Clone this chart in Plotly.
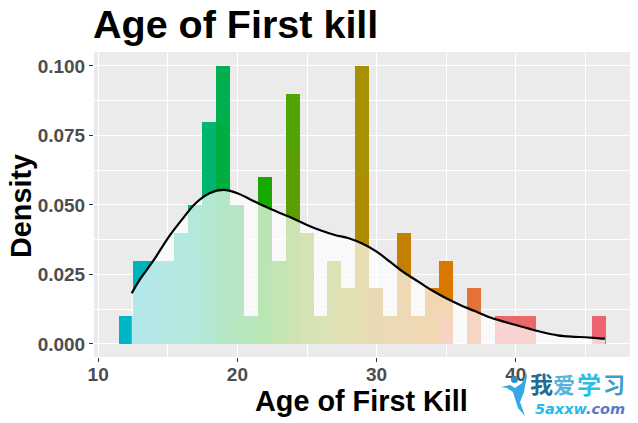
import plotly.graph_objects as go

ages = list(range(12, 47))
lower = [0.01, 0.03, 0.03, 0.03, 0.04, 0.03, 0.08, 0.08, 0.01, 0.01, 0.03, 0.02, 0.07, 0.04, 0.01, 0.03, 0.02, 0.06, 0.02, 0.01, 0.04, 0.01, 0.02, 0.01, 0, 0.02, 0, 0.01, 0.01, 0.01, 0, 0, 0, 0, 0.01]
upper = [0, 0, 0, 0, 0, 0.02, 0, 0.02, 0.04, 0, 0.03, 0.01, 0.02, 0, 0, 0, 0, 0.04, 0, 0, 0, 0, 0, 0.02, 0, 0, 0, 0, 0, 0, 0, 0, 0, 0, 0]
lower_colors = ["#00B4C8", "#00B2BA", "#00B3AF", "#00B2A2", "#00B496", "#00B48E", "#00B471", "#00AD40", "#0AB02E", "#10AF20",
                "#1AAB00", "#38A900", "#5CA000", "#72A000", "#80A000", "#8C9A00", "#9A9600", "#AE8C00", "#B28800", "#BC8400",
                "#C48000", "#CA7D00", "#D27A00", "#E47030", "#FFFFFF", "#E27238", "#FFFFFF", "#E96868", "#E96868", "#E96868",
                "#FFFFFF", "#FFFFFF", "#FFFFFF", "#FFFFFF", "#EC6470"]
upper_colors = ["#00B4C8", "#00B2BA", "#00B3AF", "#00B2A2", "#00B496", "#00B488", "#00B471", "#00B050", "#0AB032", "#10AF20",
                "#18A900", "#35A800", "#50A500", "#72A000", "#80A000", "#8C9A00", "#9A9600", "#A89000", "#B28800", "#BC8400",
                "#C48000", "#CA7D00", "#D27A00", "#D87800", "#FFFFFF", "#E27238", "#FFFFFF", "#E96868", "#E96868", "#E96868",
                "#FFFFFF", "#FFFFFF", "#FFFFFF", "#FFFFFF", "#EC6470"]

density_x = [12.41, 13, 14, 15, 16, 17, 18, 19, 20, 21, 22, 23, 24, 25, 26, 27, 28, 29, 30, 31, 32, 33, 34, 35, 36, 37, 38, 39, 40, 41, 42, 43, 44, 45, 46, 46.4]
density_y = [0.0182, 0.0232, 0.0302, 0.038, 0.0446, 0.0506, 0.0542, 0.0554, 0.0542, 0.0518, 0.0494, 0.0472, 0.0451, 0.0428, 0.0408, 0.0392, 0.038, 0.036, 0.0332, 0.0294, 0.0256, 0.0224, 0.0192, 0.0164, 0.014, 0.0119, 0.0098, 0.0082, 0.0068, 0.0054, 0.0041, 0.0031, 0.0026, 0.0024, 0.002, 0.0019]

x_ticks = [10, 20, 30, 40]
y_ticks = [0.0, 0.025, 0.05, 0.075, 0.1]
y_tick_labels = ["0.000", "0.025", "0.050", "0.075", "0.100"]

W, H = 638, 423
L, R, T, B = 94, 8, 52, 66
FONT = "Liberation Sans"

fig = go.Figure()
fig.add_bar(x=ages, y=lower, width=1, offset=-0.53, marker=dict(color=lower_colors, line_width=0), hoverinfo="skip")
fig.add_bar(x=ages, y=upper, width=1, offset=-0.53, marker=dict(color=upper_colors, line_width=0), hoverinfo="skip")
fig.add_scatter(x=density_x, y=density_y, mode="lines", fill="tozeroy",
                fillcolor="rgba(255,255,255,0.7)",
                line=dict(color="black", width=2.2, shape="spline", smoothing=1), hoverinfo="skip")


def px(x):
    return (x - L) / (W - L - R)


def py(y):
    return 1 - (y - T) / (H - T - B)


def path(points):
    return "M " + " L ".join(f"{px(a):.4f},{py(b):.4f}" for a, b in points) + " Z"


figure_pts = [(501, 387), (510, 385), (515, 388), (522, 383), (526, 373), (527, 376), (524, 392),
              (520, 402), (525, 416), (518, 408), (513, 392), (507, 388)]
fig.add_shape(type="path", xref="paper", yref="paper", path=path(figure_pts),
              fillcolor="#35A9E6", line_width=0, layer="above")
fig.add_shape(type="circle", xref="paper", yref="paper", x0=px(511), x1=px(518), y0=py(383), y1=py(376),
              fillcolor="#2C8FD0", line_width=0, layer="above")

logo_font = "Noto Sans CJK SC"
for text, x, color, size in [("我", 541, "#1F6C96", 23), ("爱", 564, "#57B2DC", 22), ("学", 589, "#26C0E8", 24), ("习", 614, "#3F9AD0", 22)]:
    fig.add_annotation(text=f"<b>{text}</b>", xref="paper", yref="paper", x=px(x), y=py(383), showarrow=False,
                       xanchor="center", yanchor="middle", font=dict(family=logo_font, size=size, color=color))
fig.add_annotation(text="<b><i>5axxw</i></b>", xref="paper", yref="paper", x=px(533), y=py(409), showarrow=False,
                   xanchor="left", yanchor="middle", font=dict(family="DejaVu Sans", size=14.5, color="#27B8EA"))
fig.add_annotation(text="<b><i>.com</i></b>", xref="paper", yref="paper", x=px(584), y=py(409), showarrow=False,
                   xanchor="left", yanchor="middle", font=dict(family="DejaVu Sans", size=14.5, color="#5A78C8"))

fig.add_annotation(text="<b>Age of First Kill</b>", xref="paper", yref="paper", x=px(361), y=py(401), showarrow=False,
                   xanchor="center", yanchor="middle", font=dict(size=28.8, color="black", family=FONT))
fig.add_annotation(text="<b>Density</b>", xref="paper", yref="paper", x=px(21), y=py(206), showarrow=False, textangle=-90,
                   xanchor="center", yanchor="middle", font=dict(size=28.8, color="black", family=FONT))

fig.update_layout(
    width=W, height=H, margin=dict(l=L, r=R, t=T, b=B, autoexpand=False),
    paper_bgcolor="white", plot_bgcolor="#EBEBEB", showlegend=False,
    barmode="stack", bargap=0, font=dict(family=FONT),
    title=dict(text="<b>Age of First kill</b>", x=93 / W, xanchor="left", y=1 - 37.5 / H, yanchor="bottom",
               yref="container", pad=dict(b=0), font=dict(size=39.5, color="black", family=FONT)),
    xaxis=dict(range=[9.7, 48.2], tickvals=x_ticks, ticks="outside", ticklen=4, tickwidth=1, tickcolor="#333333",
               ticklabelstandoff=-4,
               tickfont=dict(size=19, color="#4D4D4D", family="Liberation Sans", weight="bold"),
               showgrid=True, gridcolor="white", gridwidth=1.4, zeroline=False,
               minor=dict(dtick=5, tick0=0, showgrid=True, gridcolor="white", gridwidth=0.7)),
    yaxis=dict(range=[-0.0047, 0.105], tickvals=y_ticks, ticktext=y_tick_labels, ticks="outside", ticklen=4, tickwidth=1,
               tickcolor="#333333", tickfont=dict(size=19, color="#4D4D4D", family="Liberation Sans", weight="bold"),
               showgrid=True, gridcolor="white", gridwidth=1.4, zeroline=False,
               minor=dict(dtick=0.0125, tick0=0, showgrid=True, gridcolor="white", gridwidth=0.7)),
)

fig.write_html("out.html", config=dict(displayModeBar=False),
               post_script="document.body.style.margin='0';")
